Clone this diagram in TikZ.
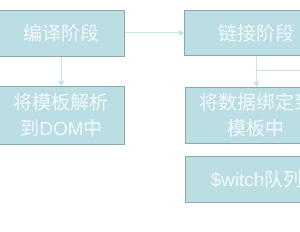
\documentclass[tikz,border=0pt]{standalone}
\usepackage{fontspec}
\setmainfont{Liberation Sans}
\newfontfamily\cjk{Noto Sans CJK SC}[Scale=1.0]
\usetikzlibrary{arrows.meta}
\definecolor{boxfill}{RGB}{186,222,227}
\definecolor{boxedge}{RGB}{140,168,172}
\definecolor{linkc}{RGB}{196,230,235}
\definecolor{txtc}{RGB}{244,250,251}
\begin{document}
\begin{tikzpicture}[x=1pt,y=-1pt,
  stagebox/.style={draw=boxedge,fill=boxfill,line width=0.9pt,inner sep=0pt,
    text=txtc,font=\fontsize{19}{26}\selectfont\cjk,align=center,anchor=north west},
  link/.style={draw=linkc,line width=1pt,-{Triangle[width=6pt,length=5pt]}},
  plain/.style={draw=linkc,line width=1pt}]
\useasboundingbox (0,0) rectangle (300,232);
\clip (0,0) rectangle (300,232);
\node[stagebox,minimum width=126pt,minimum height=46pt] (b1) at (-2,10) {编译阶段};
\node[stagebox,minimum width=126pt,minimum height=58pt] (b2) at (-2,86) {将模板解析\\到{\rmfamily DOM}中};
\node[stagebox,minimum width=144pt,minimum height=45pt] (b3) at (184,10) {链接阶段};
\node[stagebox,minimum width=142pt,minimum height=56pt] (b4) at (185,87) {将数据绑定到\\模板中};
\node[stagebox,minimum width=142pt,minimum height=46pt] (b5) at (185,156) {{\rmfamily\$witch}队列};
\draw[link] (b1.south) -- (b2.north);
\draw[link] (b1.east |- 0,33) -- (b3.west |- 0,33);
\draw[link] (b3.south) -- (b4.north);
\coordinate (br) at (b3.south |- 0,71);
\coordinate (bend) at (320,71);
\draw[plain] (br) -- (bend);
\end{tikzpicture}
\end{document}
